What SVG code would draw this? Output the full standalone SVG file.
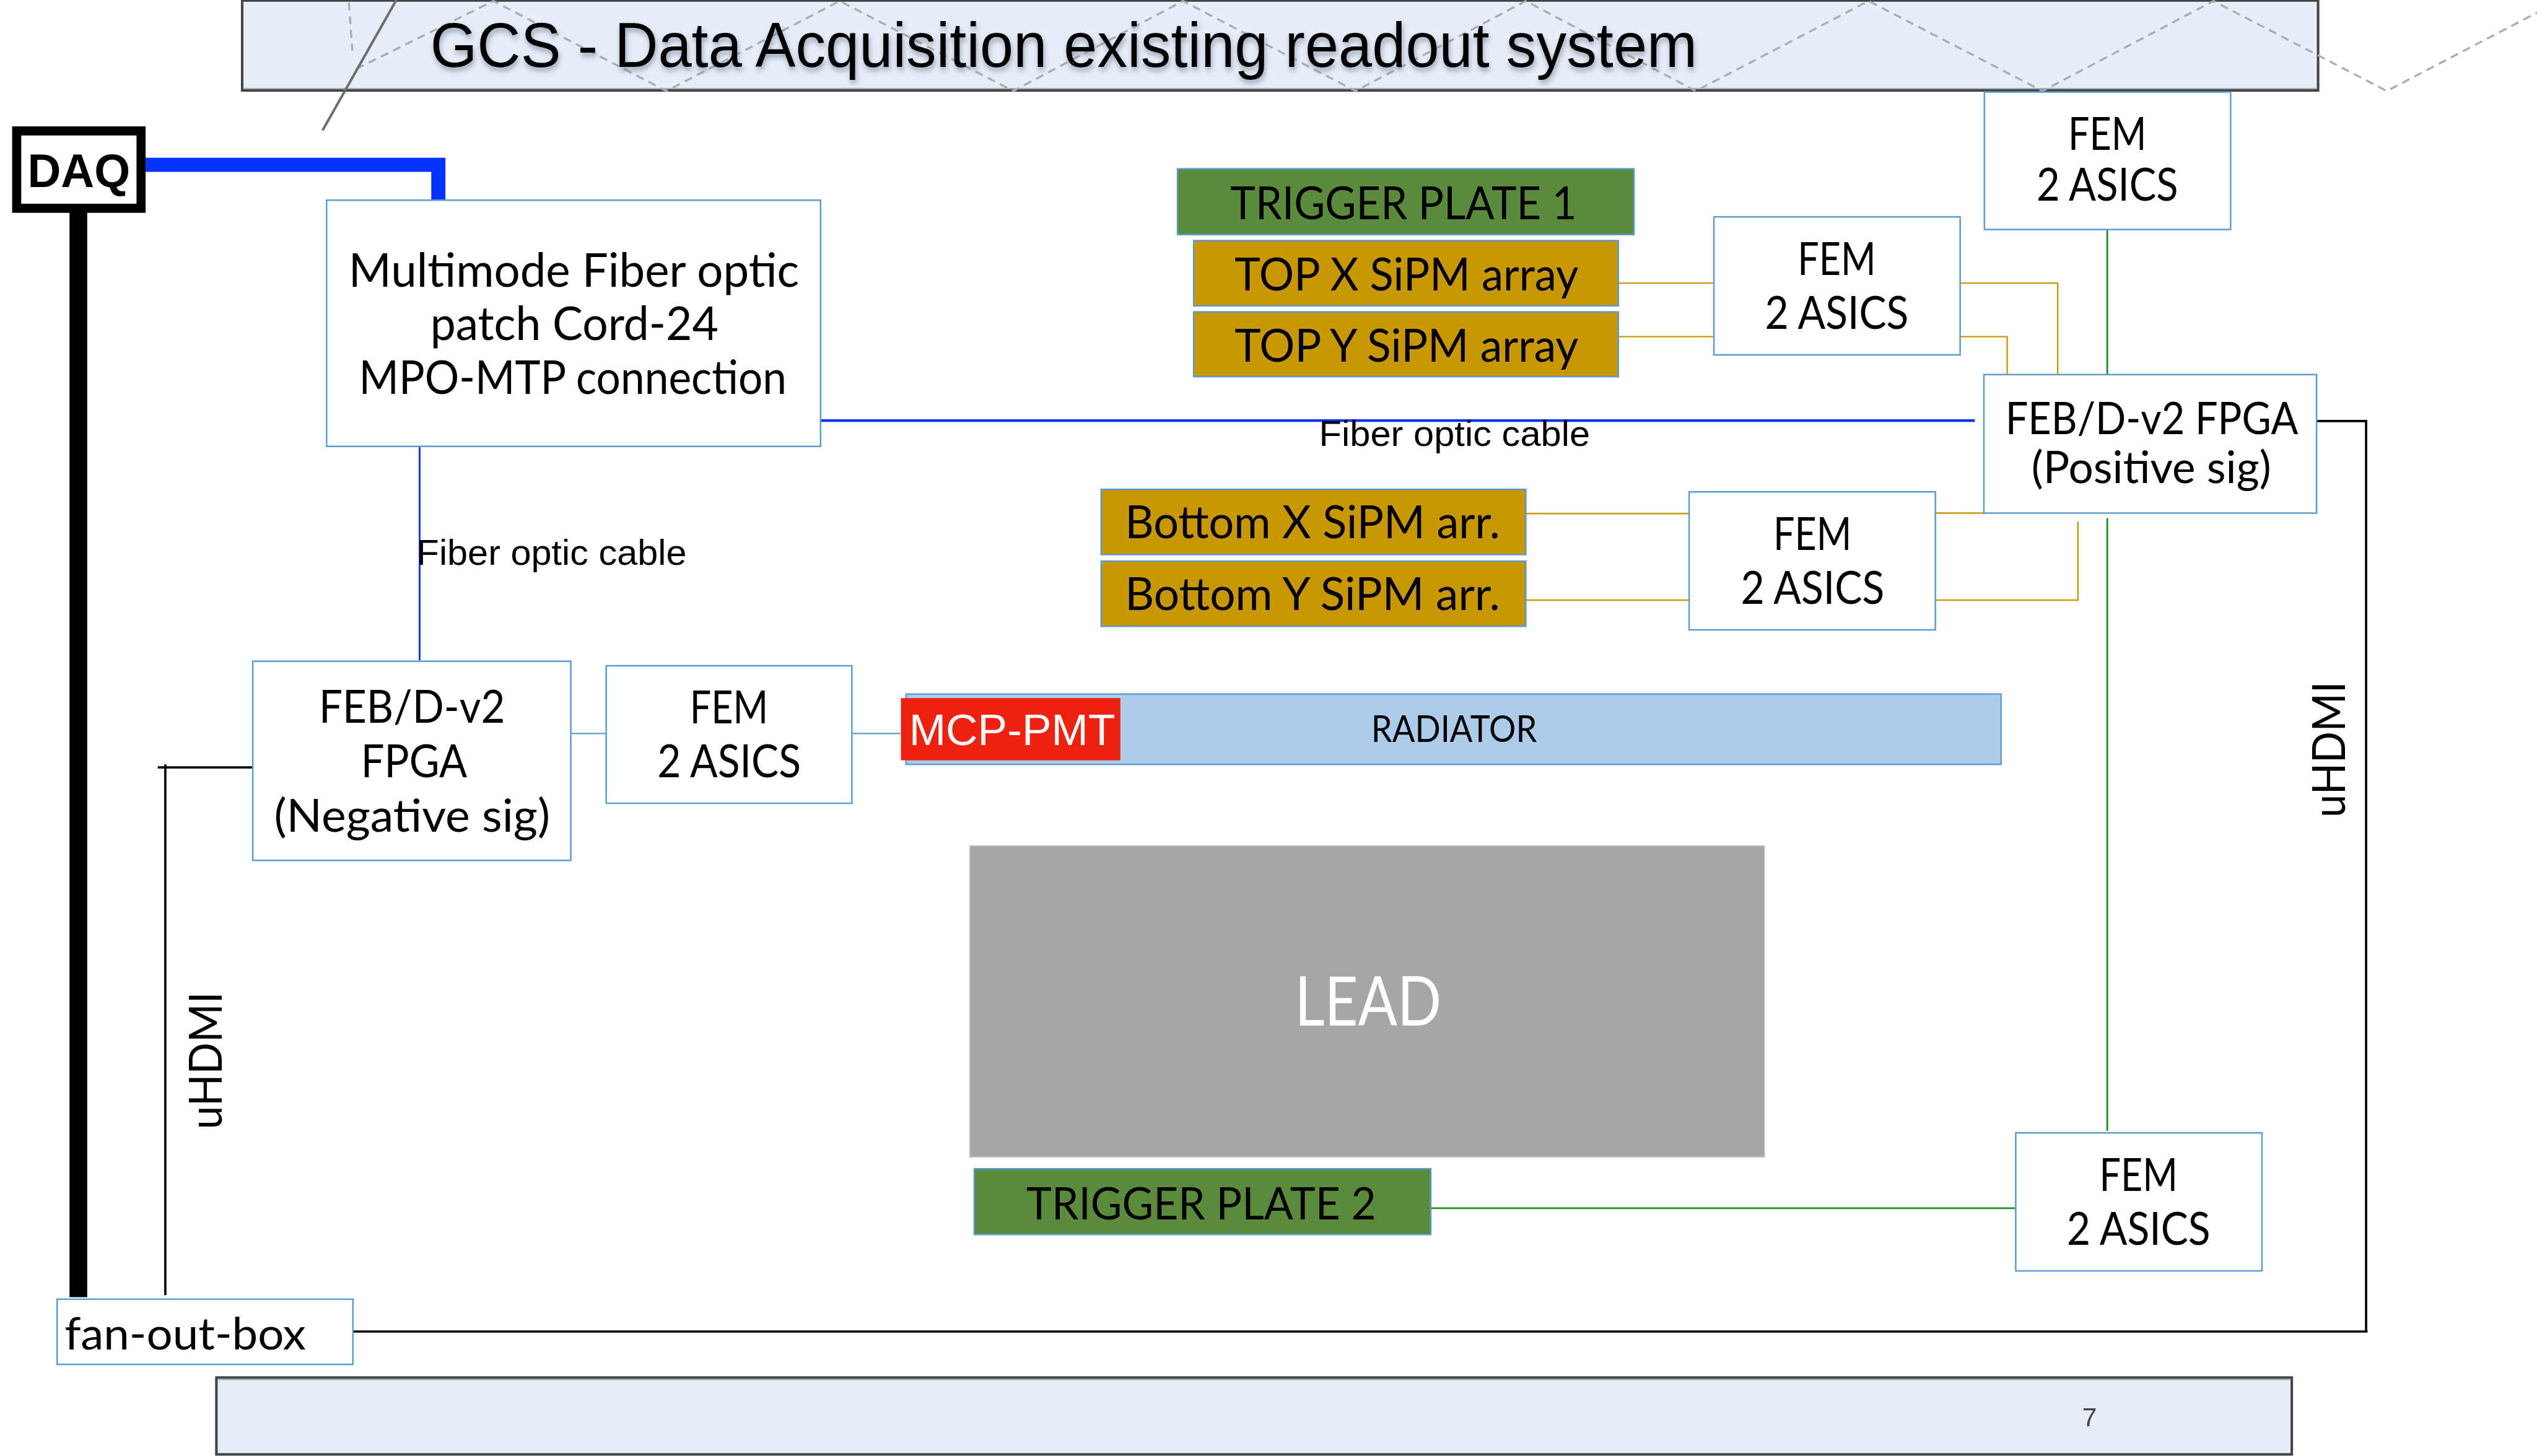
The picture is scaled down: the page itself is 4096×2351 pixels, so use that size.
<svg xmlns="http://www.w3.org/2000/svg" width="4096" height="2351" viewBox="0 0 4096 2351">
  <defs>
    <style>
      .node{fill:#ffffff;stroke:#5B9BD5;stroke-width:3}
      .gold{fill:#C99700;stroke:#5B9BD5;stroke-width:3}
      .green{fill:#5B8A3A;stroke:#5B9BD5;stroke-width:3}
      .lbl{font-family:Lato,"Noto Sans","DejaVu Sans",sans-serif;fill:#000;text-anchor:middle}
      .hv{font-family:"Liberation Sans",Arial,sans-serif;fill:#000}
      .band{fill:#E6EEF8;stroke:#444444;stroke-width:5}
      .zig{fill:none;stroke:#A9ACB0;stroke-width:4;stroke-dasharray:16 11}
      .w-gold{fill:none;stroke:#C99A00;stroke-width:3}
      .w-green{fill:none;stroke:#1E901E;stroke-width:3.5}
      .w-blue{fill:none;stroke:#0433FF}
      .w-lblue{fill:none;stroke:#5B9BD5;stroke-width:3}
      .w-black{fill:none;stroke:#000;stroke-width:4.5}
    </style>
    <filter id="titleShadow" x="-5%" y="-40%" width="110%" height="200%">
      <feDropShadow dx="2" dy="7" stdDeviation="5" flood-color="#4A5A70" flood-opacity="0.5"/>
    </filter>
  </defs>
  <rect width="4096" height="2351" fill="#ffffff"/>
  <g transform="scale(0.81626)">
    <!-- header band -->
    <g id="header">
      <rect class="band" x="479" y="1" width="4106" height="178"/>
      <line x1="481" y1="175" x2="4583" y2="175" stroke="#A0A6AE" stroke-width="2"/>
      <line class="zig" x1="690" y1="5" x2="697" y2="100"/>
      <polyline class="zig" points="705,136 976,2 1318,180 1661,2 2004,180 2340,2 2681,180 3018,2 3354,180 3696,2 4040,180 4378,2 4721,180 5018,25"/>
      <line x1="784" y1="0" x2="638" y2="258" stroke="#6E6E6E" stroke-width="5"/>
      <text class="hv" x="851" y="132" font-size="124" textLength="2506" lengthAdjust="spacingAndGlyphs" filter="url(#titleShadow)">GCS - Data Acquisition existing readout system</text>
    </g>

    <!-- footer band -->
    <g id="footer">
      <rect class="band" x="428" y="2725" width="4105" height="152"/>
      <line x1="430" y1="2729" x2="4531" y2="2729" stroke="#A0A6AE" stroke-width="2"/>
      <text class="hv" x="4133" y="2822" font-size="52" fill="#444" text-anchor="middle" style="fill:#444">7</text>
    </g>

    <!-- connectors -->
    <g id="connectors">
      <path class="w-blue" d="M288 326 H867 V395" stroke-width="28"/>
      <line x1="155" y1="412" x2="155" y2="2566" stroke="#000" stroke-width="35"/>
      <line class="w-blue" x1="1623" y1="832" x2="3906" y2="832" stroke-width="5"/>
      <line class="w-blue" x1="830" y1="883" x2="830" y2="1306" stroke-width="3.5"/>

      <path class="w-gold" d="M3201 560 H3390"/>
      <path class="w-gold" d="M3877 560 H4070 V741"/>
      <path class="w-gold" d="M3201 666 H3390"/>
      <path class="w-gold" d="M3877 666 H3970 V741"/>
      <path class="w-gold" d="M3018 1016 H3341"/>
      <path class="w-gold" d="M3828 1015 H3924"/>
      <path class="w-gold" d="M3018 1187 H3341"/>
      <path class="w-gold" d="M3828 1187 H4110 V1032"/>

      <path class="w-green" d="M4168 453 V741"/>
      <path class="w-green" d="M4168 1025 V2237"/>
      <path class="w-green" d="M2830 2390 H3987"/>

      <path class="w-lblue" d="M1129 1451 H1199"/>
      <path class="w-lblue" d="M1685 1451 H1782"/>

      <path class="w-black" d="M4582 833 H4680 V2634"/>
      <path class="w-black" d="M698 2634 H4683"/>
      <path class="w-black" d="M500 1518 H312" stroke-width="4"/>
      <path class="w-black" d="M327 1512 V2562" stroke-width="3"/>

      <text class="hv" x="2609" y="882" font-size="70" textLength="536" lengthAdjust="spacingAndGlyphs">Fiber optic cable</text>
      <text class="hv" x="824" y="1117" font-size="70" textLength="534" lengthAdjust="spacingAndGlyphs">Fiber optic cable</text>
      <text class="lbl" transform="translate(4638,1617) rotate(-90)" x="0" y="0" font-size="90" text-anchor="start" style="text-anchor:start" textLength="269" lengthAdjust="spacingAndGlyphs">uHDMI</text>
      <text class="lbl" transform="translate(439,2234) rotate(-90)" x="0" y="0" font-size="90" style="text-anchor:start" textLength="272" lengthAdjust="spacingAndGlyphs">uHDMI</text>
    </g>

    <!-- nodes -->
    <g id="daq">
      <rect x="33" y="259" width="246" height="153" fill="#fff" stroke="#000" stroke-width="18"/>
      <text class="hv" x="156" y="370" font-size="93" font-weight="bold" text-anchor="middle" textLength="203" lengthAdjust="spacingAndGlyphs">DAQ</text>
    </g>

    <g id="patch-cord">
      <rect class="node" x="646" y="396" width="977" height="487"/>
      <text class="lbl" x="1135" y="567" font-size="92" textLength="891" lengthAdjust="spacingAndGlyphs">Multimode Fiber optic</text>
      <text class="lbl" x="1136" y="673" font-size="92" textLength="570" lengthAdjust="spacingAndGlyphs">patch Cord-24</text>
      <text class="lbl" x="1133" y="779" font-size="92" textLength="846" lengthAdjust="spacingAndGlyphs">MPO-MTP connection</text>
    </g>

    <g id="trigger-plate-1">
      <rect class="green" x="2329" y="334" width="903" height="130"/>
      <text class="lbl" x="2776" y="434" font-size="90" textLength="685" lengthAdjust="spacingAndGlyphs">TRIGGER PLATE 1</text>
    </g>
    <g id="top-x-sipm">
      <rect class="gold" x="2361" y="476" width="840" height="129"/>
      <text class="lbl" x="2782" y="574" font-size="90" textLength="680" lengthAdjust="spacingAndGlyphs">TOP X SiPM array</text>
    </g>
    <g id="top-y-sipm">
      <rect class="gold" x="2361" y="617" width="840" height="128"/>
      <text class="lbl" x="2782" y="715" font-size="90" textLength="680" lengthAdjust="spacingAndGlyphs">TOP Y SiPM array</text>
    </g>
    <g id="bottom-x-sipm">
      <rect class="gold" x="2178" y="968" width="840" height="129"/>
      <text class="lbl" x="2596" y="1065" font-size="90" textLength="742" lengthAdjust="spacingAndGlyphs">Bottom X SiPM arr.</text>
    </g>
    <g id="bottom-y-sipm">
      <rect class="gold" x="2178" y="1110" width="840" height="129"/>
      <text class="lbl" x="2596" y="1207" font-size="90" textLength="742" lengthAdjust="spacingAndGlyphs">Bottom Y SiPM arr.</text>
    </g>

    <g id="fem-top">
      <rect class="node" x="3925" y="182" width="487" height="272"/>
      <text class="lbl" x="4168" y="297" font-size="90" textLength="155" lengthAdjust="spacingAndGlyphs">FEM</text>
      <text class="lbl" x="4168" y="397" font-size="90" textLength="280" lengthAdjust="spacingAndGlyphs">2 ASICS</text>
    </g>
    <g id="fem-top-sipm">
      <rect class="node" x="3390" y="429" width="487" height="273"/>
      <text class="lbl" x="3633" y="544" font-size="90" textLength="155" lengthAdjust="spacingAndGlyphs">FEM</text>
      <text class="lbl" x="3633" y="650" font-size="90" textLength="284" lengthAdjust="spacingAndGlyphs">2 ASICS</text>
    </g>
    <g id="fem-bottom-sipm">
      <rect class="node" x="3341" y="973" width="487" height="273"/>
      <text class="lbl" x="3585" y="1088" font-size="90" textLength="155" lengthAdjust="spacingAndGlyphs">FEM</text>
      <text class="lbl" x="3585" y="1194" font-size="90" textLength="284" lengthAdjust="spacingAndGlyphs">2 ASICS</text>
    </g>
    <g id="fem-mcp">
      <rect class="node" x="1199" y="1317" width="486" height="272"/>
      <text class="lbl" x="1442" y="1431" font-size="90" textLength="155" lengthAdjust="spacingAndGlyphs">FEM</text>
      <text class="lbl" x="1442" y="1538" font-size="90" textLength="284" lengthAdjust="spacingAndGlyphs">2 ASICS</text>
    </g>
    <g id="fem-trigger-2">
      <rect class="node" x="3987" y="2241" width="487" height="273"/>
      <text class="lbl" x="4230" y="2356" font-size="90" textLength="155" lengthAdjust="spacingAndGlyphs">FEM</text>
      <text class="lbl" x="4230" y="2462" font-size="90" textLength="284" lengthAdjust="spacingAndGlyphs">2 ASICS</text>
    </g>

    <g id="feb-positive">
      <rect class="node" x="3924" y="741" width="658" height="274"/>
      <text class="lbl" x="4256" y="859" font-size="88" textLength="579" lengthAdjust="spacingAndGlyphs">FEB/D-v2 FPGA</text>
      <text class="lbl" x="4255" y="956" font-size="88" textLength="474" lengthAdjust="spacingAndGlyphs">(Positive sig)</text>
    </g>
    <g id="feb-negative">
      <rect class="node" x="500" y="1308" width="629" height="394"/>
      <text class="lbl" x="815" y="1430" font-size="90" textLength="368" lengthAdjust="spacingAndGlyphs">FEB/D-v2</text>
      <text class="lbl" x="819" y="1537" font-size="90" textLength="210" lengthAdjust="spacingAndGlyphs">FPGA</text>
      <text class="lbl" x="815" y="1645" font-size="90" textLength="546" lengthAdjust="spacingAndGlyphs">(Negative sig)</text>
    </g>

    <g id="radiator">
      <rect x="1792" y="1373" width="2166" height="139" fill="#AECCE9" stroke="#5B9BD5" stroke-width="3"/>
      <text class="lbl" x="2876" y="1468" font-size="74" textLength="328" lengthAdjust="spacingAndGlyphs">RADIATOR</text>
    </g>
    <g id="mcp-pmt">
      <rect x="1782" y="1381" width="434" height="123" fill="#EE2110"/>
      <text class="hv" x="2002" y="1474" font-size="87" text-anchor="middle" style="fill:#fff" textLength="408" lengthAdjust="spacingAndGlyphs">MCP-PMT</text>
    </g>
    <g id="lead">
      <rect x="1918" y="1673" width="1572" height="616" fill="#A6A6A6" stroke="#C8C8C8" stroke-width="2"/>
      <text class="lbl" x="2706" y="2029" font-size="136" style="fill:#fff" textLength="290" lengthAdjust="spacingAndGlyphs">LEAD</text>
    </g>
    <g id="trigger-plate-2">
      <rect class="green" x="1927" y="2312" width="903" height="130"/>
      <text class="lbl" x="2376" y="2412" font-size="88" textLength="692" lengthAdjust="spacingAndGlyphs">TRIGGER PLATE 2</text>
    </g>

    <g id="fan-out-box">
      <rect class="node" x="113" y="2570" width="585" height="129"/>
      <text class="lbl" x="128" y="2669" font-size="88" style="text-anchor:start" textLength="477" lengthAdjust="spacingAndGlyphs">fan-out-box</text>
    </g>
  </g>
</svg>
